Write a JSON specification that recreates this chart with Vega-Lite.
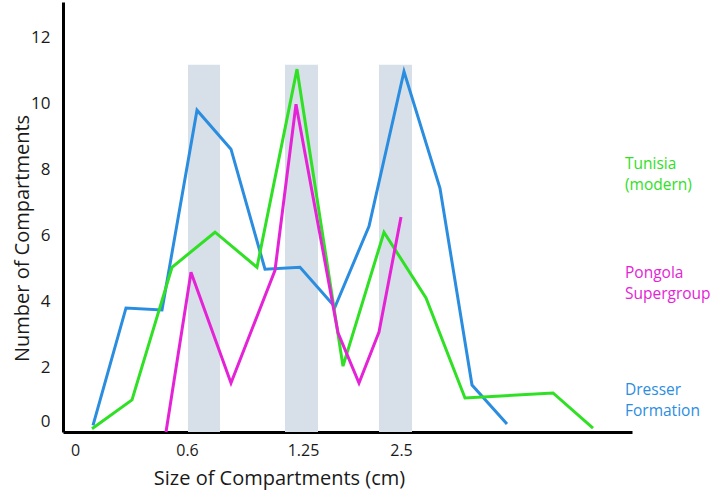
{
  "$schema": "https://vega.github.io/schema/vega-lite/v6.json",
  "width": 569,
  "height": 430,
  "autosize": {"type": "none"},
  "padding": {"left": 63, "top": 2, "right": 82, "bottom": 67},
  "config": {"view": {"stroke": null}, "font": "Open Sans"},
  "datasets": {
    "bands": [
      {"x0": 125, "x1": 157, "bottom": 0, "top": 11.1},
      {"x0": 222, "x1": 255, "bottom": 0, "top": 11.1},
      {"x0": 316, "x1": 349, "bottom": 0, "top": 11.1}
    ],
    "lines": [
      {"series": "Dresser Formation", "pos": 30, "count": 0.2},
      {"series": "Dresser Formation", "pos": 63, "count": 3.75},
      {"series": "Dresser Formation", "pos": 99, "count": 3.69},
      {"series": "Dresser Formation", "pos": 134, "count": 9.73},
      {"series": "Dresser Formation", "pos": 168, "count": 8.55},
      {"series": "Dresser Formation", "pos": 202, "count": 4.92},
      {"series": "Dresser Formation", "pos": 237, "count": 4.98},
      {"series": "Dresser Formation", "pos": 272, "count": 3.78},
      {"series": "Dresser Formation", "pos": 306, "count": 6.22},
      {"series": "Dresser Formation", "pos": 341, "count": 10.9},
      {"series": "Dresser Formation", "pos": 377, "count": 7.37},
      {"series": "Dresser Formation", "pos": 409, "count": 1.42},
      {"series": "Dresser Formation", "pos": 444, "count": 0.24},
      {"series": "Tunisia (modern)", "pos": 29, "count": 0.1},
      {"series": "Tunisia (modern)", "pos": 69, "count": 0.97},
      {"series": "Tunisia (modern)", "pos": 109, "count": 4.98},
      {"series": "Tunisia (modern)", "pos": 152, "count": 6.04},
      {"series": "Tunisia (modern)", "pos": 194, "count": 4.98},
      {"series": "Tunisia (modern)", "pos": 234, "count": 10.97},
      {"series": "Tunisia (modern)", "pos": 280, "count": 1.99},
      {"series": "Tunisia (modern)", "pos": 321, "count": 6.04},
      {"series": "Tunisia (modern)", "pos": 363, "count": 4.05},
      {"series": "Tunisia (modern)", "pos": 402, "count": 1.03},
      {"series": "Tunisia (modern)", "pos": 490, "count": 1.18},
      {"series": "Tunisia (modern)", "pos": 530, "count": 0.12},
      {"series": "Pongola Supergroup", "pos": 103, "count": 0.0},
      {"series": "Pongola Supergroup", "pos": 128, "count": 4.83},
      {"series": "Pongola Supergroup", "pos": 168, "count": 1.48},
      {"series": "Pongola Supergroup", "pos": 212, "count": 4.89},
      {"series": "Pongola Supergroup", "pos": 233, "count": 9.91},
      {"series": "Pongola Supergroup", "pos": 275, "count": 3.0},
      {"series": "Pongola Supergroup", "pos": 296, "count": 1.48},
      {"series": "Pongola Supergroup", "pos": 316, "count": 3.02},
      {"series": "Pongola Supergroup", "pos": 338, "count": 6.5}
    ],
    "labels": [
      {"series": "Tunisia (modern)", "text": ["Tunisia", "(modern)"], "pos": 562, "count": 8.1},
      {"series": "Pongola Supergroup", "text": ["Pongola", "Supergroup"], "pos": 562, "count": 4.8},
      {"series": "Dresser Formation", "text": ["Dresser", "Formation"], "pos": 562, "count": 1.27}
    ]
  },
  "layer": [
    {
      "data": {"name": "bands"},
      "mark": {"type": "rect", "color": "#d7e0e8"},
      "encoding": {
        "x": {"field": "x0", "type": "quantitative", "scale": {"domain": [0, 569], "nice": false, "zero": false},
          "axis": {
            "values": [12, 124, 240, 338],
            "labelExpr": "datum.value == 12 ? '0' : datum.value == 124 ? '0.6' : datum.value == 240 ? '1.25' : '2.5'",
            "title": "Size of Compartments (cm)",
            "titleX": 216, "titleY": 46, "titleBaseline": "middle", "titleAlign": "center",
            "titleFontSize": 20, "titleFontWeight": "normal", "titleColor": "#1a1a1a",
            "labelFontSize": 16, "labelColor": "#1a1a1a", "labelPadding": 10,
            "ticks": false, "grid": false,
            "domainColor": "#000", "domainWidth": 3
          }},
        "x2": {"field": "x1"},
        "y": {"field": "bottom", "type": "quantitative", "scale": {"domain": [0, 13], "nice": false},
          "axis": {
            "values": [0, 2, 4, 6, 8, 10, 12],
            "title": "Number of Compartments",
            "titleX": -41, "titleY": 236, "titleAngle": -90, "titleBaseline": "middle", "titleAlign": "center",
            "titleFontSize": 20, "titleFontWeight": "normal", "titleColor": "#1a1a1a",
            "labelFontSize": 17, "labelColor": "#1a1a1a", "labelPadding": 13,
            "labelOffset": {"condition": {"test": "datum.value == 0", "value": -11}, "value": 2},
            "ticks": false, "grid": false,
            "domainColor": "#000", "domainWidth": 3
          }},
        "y2": {"field": "top"}
      }
    },
    {
      "data": {"name": "lines"},
      "mark": {"type": "line", "strokeWidth": 3},
      "encoding": {
        "x": {"field": "pos", "type": "quantitative"},
        "y": {"field": "count", "type": "quantitative"},
        "color": {"field": "series", "type": "nominal", "legend": null,
          "scale": {"domain": ["Tunisia (modern)", "Pongola Supergroup", "Dresser Formation"], "range": ["#2fe024", "#e523d6", "#2b8ddf"]}}
      }
    },
    {
      "data": {"name": "labels"},
      "mark": {"type": "text", "align": "left", "baseline": "middle", "fontSize": 15.5, "lineHeight": 21, "clip": false},
      "encoding": {
        "x": {"field": "pos", "type": "quantitative"},
        "y": {"field": "count", "type": "quantitative"},
        "text": {"field": "text"},
        "color": {"field": "series", "type": "nominal", "legend": null}
      }
    }
  ]
}
